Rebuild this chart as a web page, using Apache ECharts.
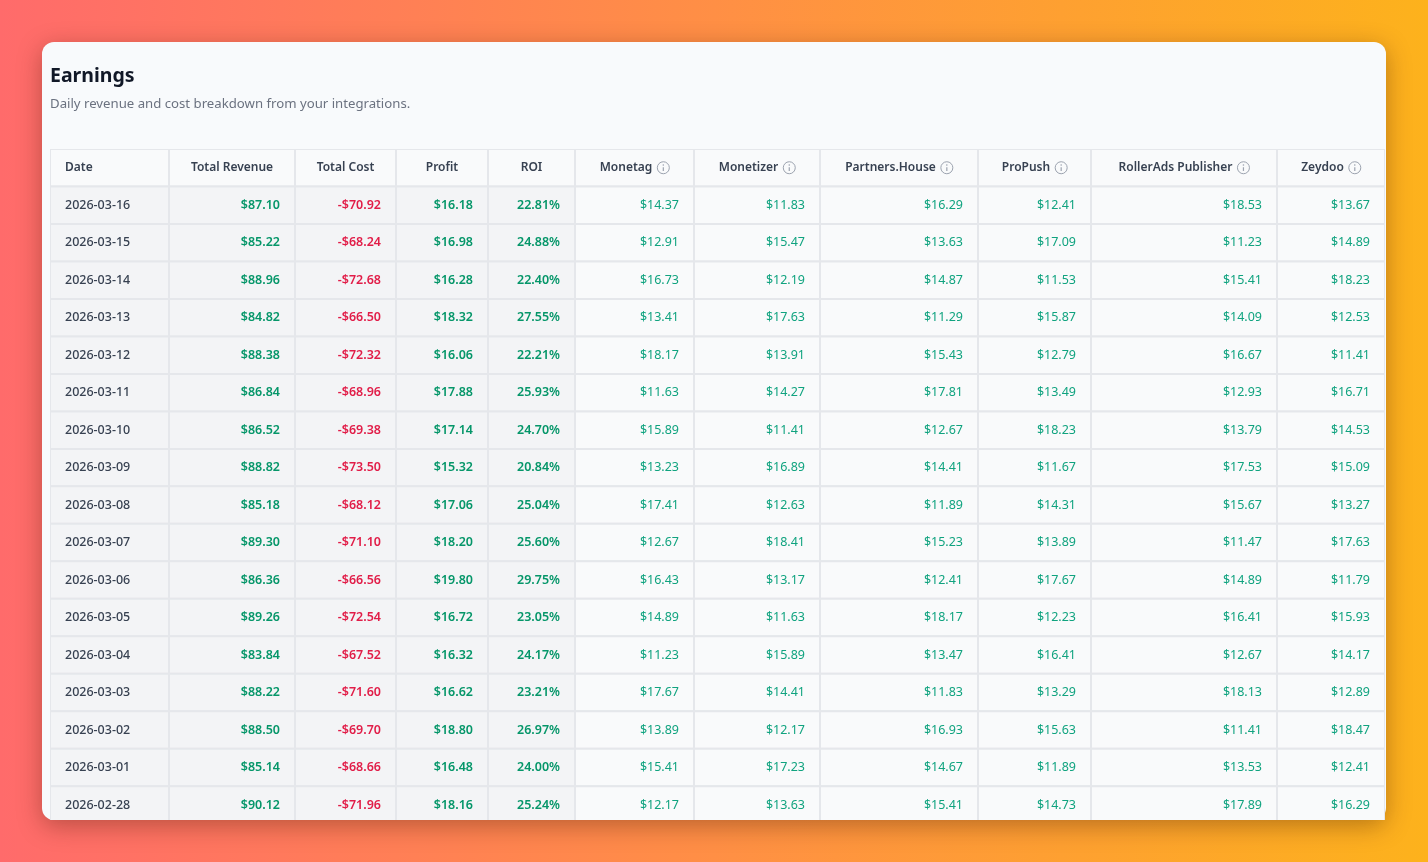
<!DOCTYPE html>
<html>
<head>
<meta charset="utf-8">
<script src="https://cdn.jsdelivr.net/npm/echarts@6/dist/echarts.min.js"></script>
<style>
  html, body { margin: 0; padding: 0; width: 100%; height: 100%; overflow: hidden; }
  #main { width: 1428px; height: 862px; }
</style>
</head>
<body>
<div id="main"></div>
<script>
// 表格数据
const headers = ['Date', 'Total Revenue', 'Total Cost', 'Profit', 'ROI',
  'Monetag', 'Monetizer', 'Partners.House', 'ProPush', 'RollerAds Publisher', 'Zeydoo'];

const dates = ['2026-03-16', '2026-03-15', '2026-03-14', '2026-03-13', '2026-03-12', '2026-03-11',
  '2026-03-10', '2026-03-09', '2026-03-08', '2026-03-07', '2026-03-06', '2026-03-05',
  '2026-03-04', '2026-03-03', '2026-03-02', '2026-03-01', '2026-02-28'];

const totalRevenue = [87.10, 85.22, 88.96, 84.82, 88.38, 86.84, 86.52, 88.82, 85.18, 89.30, 86.36, 89.26, 83.84, 88.22, 88.50, 85.14, 90.12];
const totalCost = [-70.92, -68.24, -72.68, -66.50, -72.32, -68.96, -69.38, -73.50, -68.12, -71.10, -66.56, -72.54, -67.52, -71.60, -69.70, -68.66, -71.96];
const profit = [16.18, 16.98, 16.28, 18.32, 16.06, 17.88, 17.14, 15.32, 17.06, 18.20, 19.80, 16.72, 16.32, 16.62, 18.80, 16.48, 18.16];
const roi = [22.81, 24.88, 22.40, 27.55, 22.21, 25.93, 24.70, 20.84, 25.04, 25.60, 29.75, 23.05, 24.17, 23.21, 26.97, 24.00, 25.24];

const monetag = [14.37, 12.91, 16.73, 13.41, 18.17, 11.63, 15.89, 13.23, 17.41, 12.67, 16.43, 14.89, 11.23, 17.67, 13.89, 15.41, 12.17];
const monetizer = [11.83, 15.47, 12.19, 17.63, 13.91, 14.27, 11.41, 16.89, 12.63, 18.41, 13.17, 11.63, 15.89, 14.41, 12.17, 17.23, 13.63];
const partnersHouse = [16.29, 13.63, 14.87, 11.29, 15.43, 17.81, 12.67, 14.41, 11.89, 15.23, 12.41, 18.17, 13.47, 11.83, 16.93, 14.67, 15.41];
const proPush = [12.41, 17.09, 11.53, 15.87, 12.79, 13.49, 18.23, 11.67, 14.31, 13.89, 17.67, 12.23, 16.41, 13.29, 15.63, 11.89, 14.73];
const rollerAds = [18.53, 11.23, 15.41, 14.09, 16.67, 12.93, 13.79, 17.53, 15.67, 11.47, 14.89, 16.41, 12.67, 18.13, 11.41, 13.53, 17.89];
const zeydoo = [13.67, 14.89, 18.23, 12.53, 11.41, 16.71, 14.53, 15.09, 13.27, 17.63, 11.79, 15.93, 14.17, 12.89, 18.47, 12.41, 16.29];

// 列宽（布局）
const colWidths = [119, 126, 101, 92, 87, 119, 126, 158, 113, 186, 108];
const colStarts = [];
let acc = 0;
colWidths.forEach(w => { colStarts.push(acc); acc += w; });
const tableWidth = acc;

const columns = [dates, totalRevenue, totalCost, profit, roi, monetag, monetizer, partnersHouse, proPush, rollerAds, zeydoo];

const FONT = '"Noto Sans", "Open Sans", sans-serif';

// 文字宽度测量
const measureCtx = document.createElement('canvas').getContext('2d');
function textWidth(text, size, weight) {
  measureCtx.font = weight + ' ' + size + 'px ' + FONT;
  return measureCtx.measureText(text).width;
}

function cellText(col, row) {
  const v = columns[col][row];
  if (col === 0) return v;
  if (col === 2) return '-$' + Math.abs(v).toFixed(2);
  if (col === 4) return v.toFixed(2) + '%';
  return '$' + v.toFixed(2);
}

// 单元格数据
const cells = [];
for (let r = 0; r <= dates.length; r++) {
  for (let c = 0; c < headers.length; c++) {
    cells.push([c, r]);
  }
}

function renderCell(params, api) {
  const col = api.value(0);
  const row = api.value(1);
  const p0 = api.coord([colStarts[col], row]);
  const p1 = api.coord([colStarts[col] + colWidths[col], row + 1]);
  const x0 = p0[0], y0 = p0[1], x1 = p1[0], y1 = p1[1];
  const cy = (y0 + y1) / 2;
  const sticky = col < 5;
  let fill;
  if (row === 0) fill = '#f9fafb';
  else fill = sticky ? '#f3f4f6' : '#f9fafb';

  const children = [{
    type: 'rect',
    shape: { x: x0, y: y0, width: x1 - x0, height: y1 - y0 },
    style: { fill: fill, stroke: '#e5e7eb', lineWidth: 2 }
  }];

  if (row === 0) {
    const label = headers[col];
    const style = { fontSize: 12, fontWeight: 600, fontFamily: FONT, fill: '#374151', verticalAlign: 'middle' };
    if (col === 0) {
      children.push({ type: 'text', style: Object.assign({ text: label, x: x0 + 15, y: cy, align: 'left' }, style) });
    } else if (col < 5) {
      children.push({ type: 'text', style: Object.assign({ text: label, x: (x0 + x1) / 2, y: cy, align: 'center' }, style) });
    } else {
      const tw = textWidth(label, 12, 600);
      const total = tw + 17;
      const sx = (x0 + x1) / 2 - total / 2;
      const ix = sx + tw + 11;
      children.push({ type: 'text', style: Object.assign({ text: label, x: sx, y: cy, align: 'left' }, style) });
      children.push({ type: 'circle', shape: { cx: ix, cy: cy, r: 6 }, style: { fill: 'none', stroke: '#9ca3af', lineWidth: 1 } });
      children.push({ type: 'line', shape: { x1: ix, y1: cy - 0.5, x2: ix, y2: cy + 3.2 }, style: { stroke: '#9ca3af', lineWidth: 1.2 } });
      children.push({ type: 'circle', shape: { cx: ix, cy: cy - 2.7, r: 0.8 }, style: { fill: '#9ca3af' } });
    }
  } else {
    const r = row - 1;
    const text = cellText(col, r);
    let color, weight;
    if (col === 0) { color = '#374151'; weight = 500; }
    else if (col === 2) { color = '#e11d48'; weight = 600; }
    else if (col < 5) { color = '#059669'; weight = 600; }
    else { color = '#10a37f'; weight = 400; }
    children.push({
      type: 'text',
      style: {
        text: text,
        x: col === 0 ? x0 + 15 : x1 - 15,
        y: cy,
        align: col === 0 ? 'left' : 'right',
        verticalAlign: 'middle',
        fontSize: 12.5,
        fontWeight: weight,
        fontFamily: FONT,
        fill: color
      }
    });
  }
  return { type: 'group', children: children };
}

const chart = echarts.init(document.getElementById('main'));

const option = {
  backgroundColor: new echarts.graphic.LinearGradient(0, 0, 1, 0, [
    { offset: 0, color: '#ff6b6b' },
    { offset: 0.5, color: '#ff8f45' },
    { offset: 1, color: '#fdb21c' }
  ]),
  animation: false,
  title: {
    text: 'Earnings',
    subtext: 'Daily revenue and cost breakdown from your integrations.',
    left: 45,
    top: 61,
    itemGap: 12,
    textStyle: { fontSize: 19.5, fontWeight: 700, color: '#111827', fontFamily: FONT },
    subtextStyle: { fontSize: 13.2, color: '#6b7280', fontFamily: FONT }
  },
  graphic: [{
    type: 'rect',
    z: -1,
    shape: { x: 42, y: 42, width: 1344, height: 778, r: 12 },
    style: {
      fill: '#f8fafc',
      shadowBlur: 24,
      shadowOffsetY: 6,
      shadowColor: 'rgba(60, 20, 0, 0.35)'
    }
  }],
  grid: { left: 50, top: 149, width: tableWidth, height: 671 },
  xAxis: { type: 'value', min: 0, max: tableWidth, show: false },
  yAxis: { type: 'value', min: 0, max: 17.9, inverse: true, show: false },
  series: [{
    type: 'custom',
    clip: true,
    renderItem: renderCell,
    data: cells
  }]
};

chart.setOption(option);

window.addEventListener('resize', function () {
  chart.resize();
});
</script>
</body>
</html>
